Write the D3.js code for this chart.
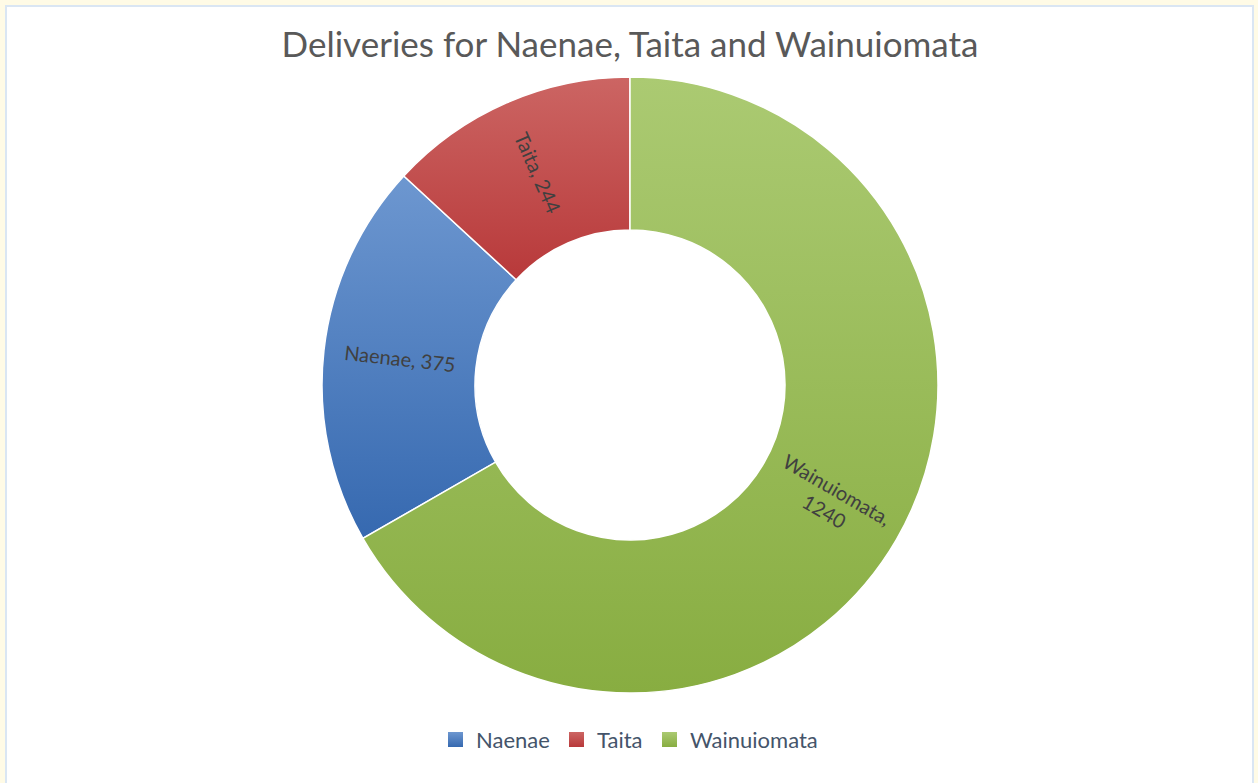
<!DOCTYPE html>
<html>
<head>
<meta charset="utf-8">
<script src="https://cdn.jsdelivr.net/npm/d3@7"></script>
<style>
  body { margin: 0; background: #fffbe6; }
  svg { display: block; }
</style>
</head>
<body>
<svg id="chart" width="1258" height="783"></svg>
<script>
const svg = d3.select("#chart")

const categories = ["Naenae", "Taita", "Wainuiomata"]
const values = [375, 244, 1240]
const labelLines = [["Naenae, 375"], ["Taita, 244"], ["Wainuiomata,", "1240"]]
const topColors = ["#6d97d0", "#cc6563", "#abca72"]
const bottomColors = ["#3669b0", "#b8393a", "#88ad41"]

const width = 1258
const height = 783
const cx = 630
const cy = 385
const outerR = 308
const innerR = 155
const fontFamily = "Lato, 'Open Sans', sans-serif"

// frame
svg.append("rect")
  .attr("x", 0).attr("y", 0).attr("width", width).attr("height", height)
  .attr("fill", "#fffbe6")
svg.append("rect")
  .attr("x", 6).attr("y", 6).attr("width", 1247).attr("height", 790)
  .attr("fill", "#ffffff")
  .attr("stroke", "#dae6f3")
  .attr("stroke-width", 2)

// gradients per slice, top light to bottom dark
const defs = svg.append("defs")
categories.forEach((c, i) => {
  const g = defs.append("linearGradient")
    .attr("id", "grad" + i)
    .attr("x1", 0).attr("y1", 0)
    .attr("x2", 0).attr("y2", 1)
  g.append("stop").attr("offset", "0%").attr("stop-color", topColors[i])
  g.append("stop").attr("offset", "100%").attr("stop-color", bottomColors[i])
})

// title
svg.append("text")
  .attr("x", cx)
  .attr("y", 57)
  .attr("text-anchor", "middle")
  .style("font-family", fontFamily)
  .style("font-size", "35px")
  .style("fill", "#595959")
  .text("Deliveries for Naenae, Taita and Wainuiomata")

const deg = Math.PI / 180
const total = d3.sum(values)
// rotate so that the last series starts at 12 o'clock
const offset = -2 * Math.PI * (values[0] + values[1]) / total
const pie = d3.pie()
  .sort(null)
  .value(d => d)
  .startAngle(offset)
  .endAngle(offset + 2 * Math.PI)

const arcs = pie(values)
const arc = d3.arc().innerRadius(innerR).outerRadius(outerR)

const g = svg.append("g").attr("transform", `translate(${cx},${cy})`)

g.selectAll("path")
  .data(arcs)
  .enter()
  .append("path")
  .attr("d", arc)
  .attr("fill", (d, i) => `url(#grad${i})`)
  .attr("stroke", "#ffffff")
  .attr("stroke-width", 1.5)

// labels, rotated along the radius
arcs.forEach((d, i) => {
  const [x, y] = arc.centroid(d)
  let mid = (d.startAngle + d.endAngle) / 2 / deg
  mid = ((mid % 360) + 360) % 360
  const rot = mid < 180 ? mid - 90 : mid - 270
  const lines = labelLines[i]
  const lh = 25
  const t = g.append("text")
    .attr("transform", `translate(${x},${y}) rotate(${rot})`)
    .attr("text-anchor", "middle")
    .style("font-family", fontFamily)
    .style("font-size", "20px")
    .style("fill", "#404040")
  lines.forEach((ln, k) => {
    t.append("tspan")
      .attr("x", 0)
      .attr("y", (k - (lines.length - 1) / 2) * lh + 7)
      .text(ln)
  })
})

// legend
const legendX = [448, 569, 662]
categories.forEach((c, i) => {
  svg.append("rect")
    .attr("x", legendX[i])
    .attr("y", 732)
    .attr("width", 15)
    .attr("height", 15)
    .attr("fill", `url(#grad${i})`)
  svg.append("text")
    .attr("x", legendX[i] + 28)
    .attr("y", 748)
    .style("font-family", fontFamily)
    .style("font-size", "22px")
    .style("fill", "#44546a")
    .text(c)
})
</script>
</body>
</html>
